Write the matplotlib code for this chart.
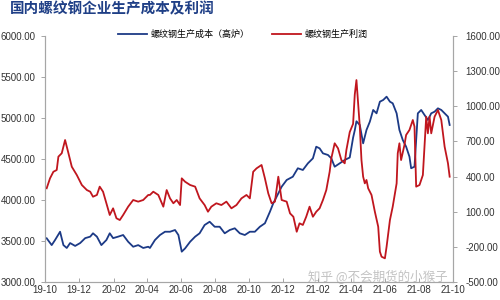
import pandas as pd
import matplotlib.pyplot as plt
import matplotlib.dates as mdates
from matplotlib.ticker import FormatStrFormatter

plt.rcParams['font.family'] = ['Liberation Sans', 'Noto Sans CJK SC', 'DejaVu Sans']

# 螺纹钢生产成本（高炉），左轴
cost_dates = [
    "2019-10-04", "2019-10-13", "2019-10-19", "2019-10-28", "2019-11-03", "2019-11-09",
    "2019-11-15", "2019-11-24", "2019-12-03", "2019-12-12", "2019-12-21", "2019-12-26",
    "2020-01-02", "2020-01-10", "2020-01-19", "2020-01-25", "2020-01-31", "2020-02-09",
    "2020-02-18", "2020-02-27", "2020-03-07", "2020-03-16", "2020-03-25", "2020-04-03",
    "2020-04-06", "2020-04-15", "2020-04-24", "2020-05-03", "2020-05-12", "2020-05-21",
    "2020-05-27", "2020-06-02", "2020-06-08", "2020-06-17", "2020-06-26", "2020-07-04",
    "2020-07-13", "2020-07-22", "2020-07-31", "2020-08-09", "2020-08-18", "2020-08-27",
    "2020-09-05", "2020-09-14", "2020-09-23", "2020-10-02", "2020-10-11", "2020-10-20",
    "2020-10-29", "2020-11-07", "2020-11-13", "2020-11-19", "2020-11-28", "2020-12-07",
    "2020-12-18", "2020-12-27", "2021-01-05", "2021-01-14", "2021-01-23", "2021-01-29",
    "2021-02-04", "2021-02-10", "2021-02-19", "2021-02-25", "2021-03-03", "2021-03-12",
    "2021-03-21", "2021-03-30", "2021-04-05", "2021-04-08", "2021-04-11", "2021-04-17",
    "2021-04-23", "2021-04-29", "2021-05-05", "2021-05-11", "2021-05-17", "2021-05-23",
    "2021-05-29", "2021-06-04", "2021-06-10", "2021-06-15", "2021-06-22", "2021-06-27",
    "2021-07-03", "2021-07-09", "2021-07-15", "2021-07-18", "2021-07-24", "2021-07-30",
    "2021-08-05", "2021-08-11", "2021-08-17", "2021-08-23", "2021-08-29", "2021-09-04",
    "2021-09-10", "2021-09-16", "2021-09-22", "2021-09-25",
]
cost_values = [
    3533, 3450, 3512, 3613, 3450, 3415,
    3475, 3440, 3475, 3535, 3553, 3594,
    3553, 3450, 3512, 3594, 3535, 3553,
    3573, 3491, 3430, 3450, 3415, 3430,
    3415, 3512, 3573, 3613, 3613, 3634,
    3573, 3370, 3410, 3491, 3553, 3594,
    3695, 3735, 3674, 3674, 3594, 3634,
    3655, 3594, 3573, 3613, 3613, 3674,
    3716, 3857, 3960, 4040, 4162, 4244,
    4284, 4387, 4366, 4447, 4508, 4650,
    4630, 4569, 4549, 4508, 4406, 4447,
    4488, 4518, 4760, 4850, 4960, 4915,
    4691, 4854, 4955, 5098, 5057, 5199,
    5220, 5260, 5199, 5179, 5057, 4854,
    4732, 4650, 4528, 4387, 4406, 5057,
    5098, 5037, 4976, 5057, 5077, 5118,
    5098, 5057, 5016, 4915,
]

# 螺纹钢生产利润，右轴
profit_dates = [
    "2019-10-04", "2019-10-10", "2019-10-16", "2019-10-22", "2019-10-25", "2019-10-31",
    "2019-11-06", "2019-11-12", "2019-11-18", "2019-11-27", "2019-12-06", "2019-12-15",
    "2019-12-21", "2019-12-26", "2020-01-02", "2020-01-07", "2020-01-13", "2020-01-19",
    "2020-01-25", "2020-01-31", "2020-02-06", "2020-02-12", "2020-02-18", "2020-02-27",
    "2020-03-07", "2020-03-16", "2020-03-25", "2020-04-03", "2020-04-06", "2020-04-12",
    "2020-04-21", "2020-04-30", "2020-05-06", "2020-05-12", "2020-05-18", "2020-05-24",
    "2020-05-30", "2020-06-02", "2020-06-08", "2020-06-17", "2020-06-26", "2020-07-04",
    "2020-07-13", "2020-07-19", "2020-07-25", "2020-08-03", "2020-08-12", "2020-08-21",
    "2020-08-30", "2020-09-08", "2020-09-17", "2020-09-26", "2020-10-02", "2020-10-08",
    "2020-10-14", "2020-10-23", "2020-10-29", "2020-11-04", "2020-11-10", "2020-11-16",
    "2020-11-22", "2020-11-28", "2020-12-07", "2020-12-13", "2020-12-19", "2020-12-25",
    "2020-12-30", "2021-01-05", "2021-01-11", "2021-01-17", "2021-01-23", "2021-01-29",
    "2021-02-04", "2021-02-10", "2021-02-16", "2021-02-22", "2021-02-25", "2021-03-03",
    "2021-03-09", "2021-03-15", "2021-03-21", "2021-03-24", "2021-03-30", "2021-04-05",
    "2021-04-08", "2021-04-11", "2021-04-14", "2021-04-17", "2021-04-20", "2021-04-23",
    "2021-04-26", "2021-04-29", "2021-05-02", "2021-05-08", "2021-05-14", "2021-05-20",
    "2021-05-23", "2021-05-26", "2021-06-01", "2021-06-04", "2021-06-10", "2021-06-15",
    "2021-06-22", "2021-06-24", "2021-06-27", "2021-06-30", "2021-07-06", "2021-07-09",
    "2021-07-15", "2021-07-21", "2021-07-24", "2021-07-27", "2021-08-02", "2021-08-08",
    "2021-08-14", "2021-08-17", "2021-08-20", "2021-08-23", "2021-08-29", "2021-09-04",
    "2021-09-10", "2021-09-16", "2021-09-22", "2021-09-25",
]
profit_values = [
    300, 385, 441, 456, 570, 599,
    712, 599, 484, 413, 328, 285,
    271, 228, 243, 314, 271, 172,
    72, 129, 44, 29, 72, 143,
    200, 186, 200, 243, 243, 271,
    243, 143, 285, 214, 172, 200,
    157, 385, 356, 328, 314, 214,
    157, 100, 143, 172, 157, 186,
    129, 157, 214, 243, 214, 441,
    470, 499, 385, 257, 172, 186,
    399, 200, 186, 86, 57, -71,
    1, -13, 57, 143, 57, 100,
    129, 200, 285, 441, 556, 684,
    641, 541, 513, 627, 780, 850,
    1100, 1224, 1026, 826, 541, 399,
    342, 371, 300, 243, 100, -28,
    -241, -284, -298, -199, 29, 143,
    342, 599, 684, 541, 670, 755,
    798, 883, 826, 314, 328, 413,
    911, 769, 911, 769, 911, 968,
    883, 655, 513, 399,
]

cost_x = pd.to_datetime(cost_dates)
profit_x = pd.to_datetime(profit_dates)

blue = '#1c3a86'
red = '#c0161e'
grey = '#a6a6a6'

fig = plt.figure(figsize=(5, 3), dpi=100)
ax = fig.add_axes([0.09, 0.06, 0.816, 0.82])
ax2 = ax.twinx()

l1, = ax.plot(cost_x, cost_values, color=blue, lw=1.3)
l2, = ax2.plot(profit_x, profit_values, color=red, lw=1.3)

ax.set_ylim(3000, 6000)
ax.set_yticks([3000, 3500, 4000, 4500, 5000, 5500, 6000])
ax2.set_ylim(-500, 1600)
ax2.set_yticks([-500, -200, 100, 400, 700, 1000, 1300, 1600])
ax.yaxis.set_major_formatter(FormatStrFormatter('%.2f'))
ax2.yaxis.set_major_formatter(FormatStrFormatter('%.2f'))

ax.set_xlim(pd.Timestamp('2019-10-01'), pd.Timestamp('2021-10-01'))
ax.xaxis.set_major_locator(mdates.MonthLocator(bymonth=[2, 4, 6, 8, 10, 12]))
ax.xaxis.set_major_formatter(mdates.DateFormatter('%y-%m'))

for a in (ax, ax2):
    for s in a.spines.values():
        s.set_color(grey)
        s.set_linewidth(0.8)
    a.spines['top'].set_visible(False)
    a.tick_params(labelsize=7, colors='#333333', length=3, width=0.7)
    a.tick_params(color=grey)
ax.tick_params(axis='y', pad=4)
ax2.tick_params(axis='y', pad=6)
ax.tick_params(axis='x', pad=2, direction='in')

fig.legend([l1, l2], ['螺纹钢生产成本（高炉）', '螺纹钢生产利润'],
           loc='center', bbox_to_anchor=(0.485, 0.885), ncol=2, frameon=False,
           prop={'family': ['Noto Sans CJK SC'], 'size': 6.5},
           handlelength=3.2, columnspacing=2.5, handletextpad=0.4)

fig.text(0.02, 0.972, '国内螺纹钢企业生产成本及利润', family=['Noto Sans CJK SC'],
         fontsize=10.5, fontweight='bold', color='#1f3f86', va='center', ha='left')

fig.text(0.615, 0.075, '知乎 @不会期货的小猴子', family=['Noto Sans CJK SC'],
         fontsize=9, color='#9a9a9a', alpha=0.6, va='center', ha='left')

fig.savefig('out.png', dpi=100)
